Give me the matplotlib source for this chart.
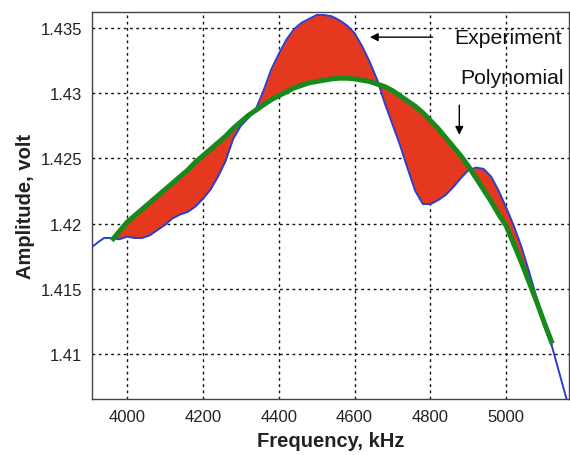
import numpy as np
import matplotlib.pyplot as plt

plt.rcParams['font.family'] = ['Liberation Sans', 'DejaVu Sans']

# frequency grid (kHz) shared by both curves
freq = np.array([3908, 3925, 3940, 3960, 3980, 4000, 4020, 4040, 4060, 4080,
                 4100, 4120, 4140, 4160, 4180, 4200, 4220, 4240, 4260, 4280,
                 4300, 4320, 4340, 4360, 4380, 4400, 4420, 4440, 4460, 4480,
                 4500, 4520, 4540, 4560, 4580, 4600, 4620, 4640, 4660, 4680,
                 4700, 4720, 4740, 4760, 4780, 4800, 4820, 4840, 4860, 4880,
                 4900, 4920, 4940, 4960, 4980, 5000, 5020, 5040, 5060, 5080,
                 5100, 5121, 5140, 5160])

experiment = np.array([1.4182, 1.4186, 1.4189, 1.4189, 1.4188, 1.4190, 1.4189, 1.4189, 1.4191, 1.4195,
                       1.4199, 1.4204, 1.4207, 1.4209, 1.4213, 1.4219, 1.4226, 1.4236, 1.4248, 1.4265,
                       1.4275, 1.4281, 1.4288, 1.4302, 1.4318, 1.4330, 1.4341, 1.4349, 1.4354, 1.4357,
                       1.4360, 1.4360, 1.4359, 1.4356, 1.4352, 1.4346, 1.4336, 1.4324, 1.4310, 1.4292,
                       1.4276, 1.4260, 1.4242, 1.4225, 1.4215, 1.4215, 1.4218, 1.4222, 1.4228, 1.4235,
                       1.4241, 1.4243, 1.4242, 1.4236, 1.4225, 1.4212, 1.4198, 1.4182, 1.4163, 1.4143,
                       1.4121, 1.4105, 1.4085, 1.4064])

# polynomial fit, only defined between 3960 and 5121 kHz
polynomial = np.array([np.nan, np.nan, np.nan, 1.4187, 1.4194, 1.4201, 1.4206, 1.4211, 1.4216, 1.4221,
                       1.4226, 1.4231, 1.4236, 1.4241, 1.4247, 1.4252, 1.4257, 1.4262, 1.4267, 1.4273,
                       1.4278, 1.4283, 1.4287, 1.4291, 1.4295, 1.4298, 1.4301, 1.4304, 1.4306, 1.4308,
                       1.4309, 1.4310, 1.4311, 1.43115, 1.43115, 1.4311, 1.4310, 1.4309, 1.4307, 1.4305,
                       1.4302, 1.4298, 1.4294, 1.4290, 1.4285, 1.4279, 1.4273, 1.4266, 1.4259, 1.4252,
                       1.4244, 1.4235, 1.4226, 1.4217, 1.4207, 1.4198, 1.4184, 1.4170, 1.4155, 1.4140,
                       1.4124, 1.4108, np.nan, np.nan])

xticks = [4000, 4200, 4400, 4600, 4800, 5000]
yticks = [1.41, 1.415, 1.42, 1.425, 1.43, 1.435]
ytick_labels = ['1.41', '1.415', '1.42', '1.425', '1.43', '1.435']

fig = plt.figure(figsize=(5.7, 4.56), dpi=100)
ax = fig.add_axes([0.1614, 0.1228, 0.8368, 0.8487])

mask = ~np.isnan(polynomial)
ax.fill_between(freq[mask], experiment[mask], polynomial[mask],
                color='#E4381F', linewidth=0, zorder=2)
ax.plot(freq, experiment, color='#2B3FCF', lw=1.4, zorder=3)
ax.plot(freq[mask], polynomial[mask], color='#178A1C', lw=3.6,
        solid_capstyle='butt', zorder=4)

ax.set_xlim(3908, 5165)
ax.set_ylim(1.40655, 1.43623)
ax.set_xticks(xticks)
ax.set_yticks(yticks)
ax.set_yticklabels(ytick_labels)
ax.tick_params(length=0, labelsize=12, colors='#222222', pad=7)
ax.grid(True, color='#111111', linestyle=(0, (2, 2.5)), linewidth=1.0)
ax.set_axisbelow(True)
for s in ax.spines.values():
    s.set_color('#444444')
    s.set_linewidth(1.0)

ax.set_xlabel('Frequency, kHz', fontsize=14.5, fontweight='bold', color='#222222', labelpad=5)
ax.set_ylabel('Amplitude, volt', fontsize=14.5, fontweight='bold', color='#222222', labelpad=4)

ax.annotate('', xy=(4633, 1.4343), xytext=(4813, 1.4343),
            arrowprops=dict(arrowstyle='-|>', color='black', lw=1.0, mutation_scale=12))
ax.text(4862, 1.4343, 'Experiment', fontsize=15.3, va='center', ha='left', color='#111111')

ax.annotate('', xy=(4876, 1.4266), xytext=(4876, 1.4293),
            arrowprops=dict(arrowstyle='-|>', color='black', lw=1.0, mutation_scale=12))
ax.text(4878, 1.4312, 'Polynomial', fontsize=15.3, va='center', ha='left', color='#111111')

fig.savefig('out.png', dpi=100)
